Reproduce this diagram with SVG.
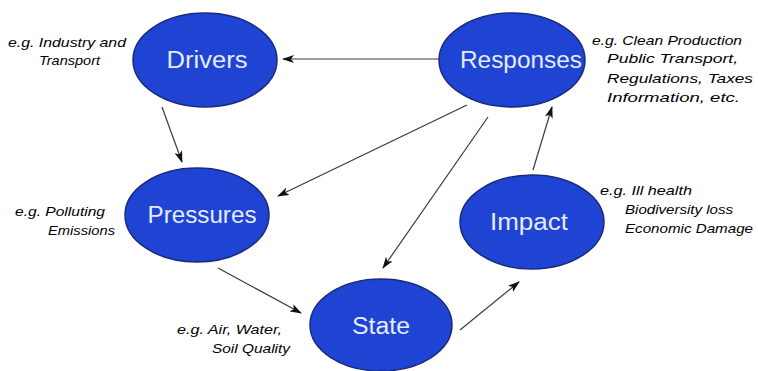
<svg xmlns="http://www.w3.org/2000/svg" width="758" height="371" viewBox="0 0 758 371">
  <style>
    .node ellipse { fill: #1f43d3; stroke: #1a2a7a; stroke-width: 1.5; }
    .node text { font-family: "Liberation Sans", Arial, sans-serif; font-size: 23px; fill: #e4ecff; text-anchor: middle; }
    .note { font-family: "Liberation Sans", Arial, sans-serif; font-size: 13.5px; font-style: italic; fill: #000000; }
    .edge { stroke: #3a3a3a; stroke-width: 1.2; fill: none; marker-end: url(#head); }
  </style>
  <defs>
    <marker id="head" viewBox="0 0 12 8" refX="11" refY="4" markerWidth="12" markerHeight="8" markerUnits="userSpaceOnUse" orient="auto">
      <path d="M0,0 L12,4 L0,8 L3,4 Z" fill="#111"/>
    </marker>
  </defs>
  <rect width="758" height="371" fill="#ffffff"/>

  <!-- connectors -->
  <g id="connectors">
    <line class="edge" x1="440" y1="59" x2="283" y2="59"/>
    <line class="edge" x1="162" y1="107" x2="182" y2="162"/>
    <line class="edge" x1="467" y1="105" x2="278" y2="196"/>
    <line class="edge" x1="488" y1="117" x2="383" y2="268"/>
    <line class="edge" x1="218" y1="268" x2="301" y2="313"/>
    <line class="edge" x1="460" y1="330" x2="519" y2="282"/>
    <line class="edge" x1="533" y1="170" x2="552" y2="107"/>
  </g>

  <!-- nodes -->
  <g id="drivers" class="node">
    <ellipse cx="205" cy="60" rx="72" ry="47"/>
    <text x="207" y="68" textLength="81" lengthAdjust="spacingAndGlyphs">Drivers</text>
  </g>
  <g id="responses" class="node">
    <ellipse cx="512" cy="60" rx="73" ry="47"/>
    <text x="521" y="68" textLength="122" lengthAdjust="spacingAndGlyphs">Responses</text>
  </g>
  <g id="pressures" class="node">
    <ellipse cx="197" cy="215" rx="72" ry="47"/>
    <text x="202" y="223" textLength="109" lengthAdjust="spacingAndGlyphs">Pressures</text>
  </g>
  <g id="impact" class="node">
    <ellipse cx="532" cy="222" rx="72" ry="47"/>
    <text x="529" y="230" textLength="78" lengthAdjust="spacingAndGlyphs">Impact</text>
  </g>
  <g id="state" class="node">
    <ellipse cx="381" cy="325" rx="71" ry="46"/>
    <text x="381" y="334" textLength="58" lengthAdjust="spacingAndGlyphs">State</text>
  </g>

  <!-- example notes -->
  <g id="notes">
    <text class="note" x="8" y="47" textLength="118" lengthAdjust="spacingAndGlyphs">e.g. Industry and</text>
    <text class="note" x="39" y="65" textLength="61" lengthAdjust="spacingAndGlyphs">Transport</text>

    <text class="note" x="592" y="45" textLength="150" lengthAdjust="spacingAndGlyphs">e.g. Clean Production</text>
    <text class="note" x="607" y="63" textLength="131" lengthAdjust="spacingAndGlyphs">Public Transport,</text>
    <text class="note" x="607" y="83" textLength="146" lengthAdjust="spacingAndGlyphs">Regulations, Taxes</text>
    <text class="note" x="607" y="102" textLength="133" lengthAdjust="spacingAndGlyphs">Information, etc.</text>

    <text class="note" x="15" y="216" textLength="90" lengthAdjust="spacingAndGlyphs">e.g. Polluting</text>
    <text class="note" x="48" y="235" textLength="67" lengthAdjust="spacingAndGlyphs">Emissions</text>

    <text class="note" x="600" y="195" textLength="92" lengthAdjust="spacingAndGlyphs">e.g. Ill health</text>
    <text class="note" x="625" y="214" textLength="108" lengthAdjust="spacingAndGlyphs">Biodiversity loss</text>
    <text class="note" x="625" y="233" textLength="128" lengthAdjust="spacingAndGlyphs">Economic Damage</text>

    <text class="note" x="177" y="334" textLength="105" lengthAdjust="spacingAndGlyphs">e.g. Air, Water,</text>
    <text class="note" x="212" y="353" textLength="78" lengthAdjust="spacingAndGlyphs">Soil Quality</text>
  </g>
</svg>
